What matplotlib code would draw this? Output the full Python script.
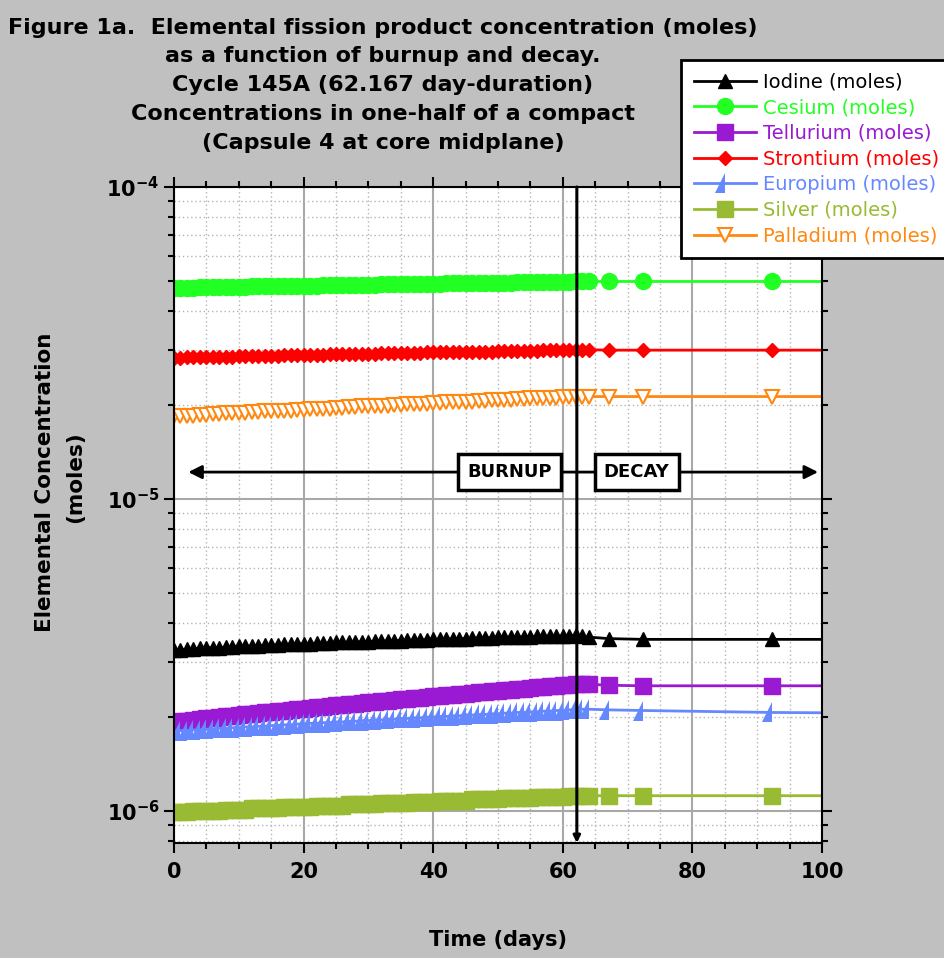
import numpy as np
import matplotlib
matplotlib.use("Agg")
import matplotlib.pyplot as plt
from matplotlib.ticker import MultipleLocator, LogLocator, NullFormatter

# time points (days): one per day during irradiation, sparse during decay
burnup_days = [0, 1, 2, 3, 4, 5, 6, 7, 8, 9,
               10, 11, 12, 13, 14, 15, 16, 17, 18, 19,
               20, 21, 22, 23, 24, 25, 26, 27, 28, 29,
               30, 31, 32, 33, 34, 35, 36, 37, 38, 39,
               40, 41, 42, 43, 44, 45, 46, 47, 48, 49,
               50, 51, 52, 53, 54, 55, 56, 57, 58, 59,
               60, 61, 62]
decay_days = [63, 64, 67.1, 72.4, 92.3, 125]

# concentrations (Iodine, Tellurium, Europium, Silver in 1e-6 moles,
# Cesium, Strontium, Palladium in 1e-5 moles); burnup values then decay values
iodine = [3.28, 3.29, 3.30, 3.31, 3.32, 3.33, 3.34, 3.34, 3.35, 3.36,
          3.37, 3.37, 3.38, 3.39, 3.40, 3.40, 3.41, 3.42, 3.42, 3.43,
          3.44, 3.44, 3.45, 3.45, 3.46, 3.47, 3.47, 3.48, 3.48, 3.49,
          3.49, 3.50, 3.50, 3.51, 3.52, 3.52, 3.53, 3.53, 3.54, 3.54,
          3.55, 3.55, 3.56, 3.56, 3.57, 3.57, 3.58, 3.58, 3.59, 3.59,
          3.60, 3.60, 3.61, 3.61, 3.62, 3.62, 3.63, 3.63, 3.64, 3.64,
          3.65, 3.65, 3.66,
          3.63, 3.61, 3.57, 3.55, 3.55, 3.55]
cesium = [4.75, 4.75, 4.76, 4.76, 4.77, 4.77, 4.77, 4.78, 4.78, 4.78,
          4.79, 4.79, 4.80, 4.80, 4.80, 4.81, 4.81, 4.81, 4.82, 4.82,
          4.82, 4.83, 4.83, 4.84, 4.84, 4.84, 4.85, 4.85, 4.85, 4.86,
          4.86, 4.86, 4.87, 4.87, 4.88, 4.88, 4.88, 4.89, 4.89, 4.89,
          4.90, 4.90, 4.91, 4.91, 4.91, 4.92, 4.92, 4.92, 4.93, 4.93,
          4.93, 4.94, 4.94, 4.95, 4.95, 4.95, 4.96, 4.96, 4.96, 4.97,
          4.97, 4.97, 4.98,
          4.98, 4.98, 4.98, 4.98, 4.98, 4.98]
tellurium = [1.93, 1.94, 1.95, 1.96, 1.97, 1.98, 1.99, 2.00, 2.01, 2.02,
             2.03, 2.04, 2.05, 2.06, 2.07, 2.08, 2.09, 2.10, 2.11, 2.12,
             2.13, 2.14, 2.15, 2.16, 2.17, 2.18, 2.19, 2.20, 2.21, 2.22,
             2.23, 2.24, 2.25, 2.26, 2.27, 2.28, 2.29, 2.30, 2.31, 2.32,
             2.33, 2.34, 2.35, 2.36, 2.37, 2.38, 2.39, 2.40, 2.41, 2.42,
             2.43, 2.44, 2.45, 2.46, 2.47, 2.48, 2.49, 2.50, 2.51, 2.52,
             2.53, 2.54, 2.56,
             2.56, 2.55, 2.53, 2.52, 2.52, 2.52]
strontium = [2.84, 2.84, 2.85, 2.85, 2.85, 2.85, 2.86, 2.86, 2.86, 2.86,
             2.87, 2.87, 2.87, 2.88, 2.88, 2.88, 2.88, 2.89, 2.89, 2.89,
             2.89, 2.90, 2.90, 2.90, 2.91, 2.91, 2.91, 2.91, 2.92, 2.92,
             2.92, 2.92, 2.93, 2.93, 2.93, 2.94, 2.94, 2.94, 2.94, 2.95,
             2.95, 2.95, 2.95, 2.96, 2.96, 2.96, 2.97, 2.97, 2.97, 2.97,
             2.98, 2.98, 2.98, 2.98, 2.99, 2.99, 2.99, 3.00, 3.00, 3.00,
             3.00, 3.01, 3.01,
             3.01, 3.01, 3.00, 3.00, 3.00, 3.00]
europium = [1.80, 1.81, 1.81, 1.82, 1.82, 1.83, 1.83, 1.84, 1.84, 1.85,
            1.85, 1.86, 1.86, 1.87, 1.87, 1.88, 1.88, 1.89, 1.89, 1.90,
            1.90, 1.91, 1.91, 1.92, 1.92, 1.93, 1.93, 1.94, 1.94, 1.95,
            1.95, 1.96, 1.96, 1.97, 1.97, 1.98, 1.98, 1.99, 1.99, 2.00,
            2.00, 2.01, 2.01, 2.02, 2.02, 2.03, 2.03, 2.04, 2.04, 2.05,
            2.05, 2.06, 2.06, 2.07, 2.07, 2.08, 2.08, 2.09, 2.09, 2.10,
            2.10, 2.11, 2.12,
            2.12, 2.12, 2.11, 2.10, 2.07, 2.05]
silver = [0.99, 0.99, 0.99, 1.00, 1.00, 1.00, 1.00, 1.00, 1.01, 1.01,
          1.01, 1.01, 1.02, 1.02, 1.02, 1.02, 1.02, 1.03, 1.03, 1.03,
          1.03, 1.03, 1.04, 1.04, 1.04, 1.04, 1.04, 1.05, 1.05, 1.05,
          1.05, 1.05, 1.06, 1.06, 1.06, 1.06, 1.06, 1.07, 1.07, 1.07,
          1.07, 1.08, 1.08, 1.08, 1.08, 1.08, 1.09, 1.09, 1.09, 1.09,
          1.09, 1.10, 1.10, 1.10, 1.10, 1.10, 1.11, 1.11, 1.11, 1.11,
          1.11, 1.12, 1.12,
          1.12, 1.12, 1.12, 1.12, 1.12, 1.12]
palladium = [1.84, 1.84, 1.85, 1.85, 1.86, 1.86, 1.87, 1.87, 1.88, 1.88,
             1.89, 1.89, 1.90, 1.90, 1.91, 1.91, 1.91, 1.92, 1.92, 1.93,
             1.93, 1.94, 1.94, 1.95, 1.95, 1.96, 1.96, 1.97, 1.97, 1.98,
             1.98, 1.98, 1.99, 1.99, 2.00, 2.00, 2.01, 2.01, 2.02, 2.02,
             2.03, 2.03, 2.04, 2.04, 2.04, 2.05, 2.05, 2.06, 2.06, 2.07,
             2.07, 2.08, 2.08, 2.09, 2.09, 2.10, 2.10, 2.11, 2.11, 2.11,
             2.12, 2.12, 2.13,
             2.13, 2.13, 2.13, 2.13, 2.13, 2.13]

cycle_length = 62.167

days = np.array(burnup_days + decay_days)

series = [
    ("Iodine (moles)", np.array(iodine) * 1e-6, "#000000", dict(marker="^", ms=10)),
    ("Cesium (moles)", np.array(cesium) * 1e-5, "#22ff22", dict(marker="o", ms=11.5)),
    ("Tellurium (moles)", np.array(tellurium) * 1e-6, "#9a19d2", dict(marker="s", ms=11)),
    ("Strontium (moles)", np.array(strontium) * 1e-5, "#ff0000", dict(marker="D", ms=7.5)),
    ("Europium (moles)", np.array(europium) * 1e-6, "#6688ff",
     dict(marker="^", ms=14, fillstyle="left", markerfacecoloralt="none", mew=0)),
    ("Silver (moles)", np.array(silver) * 1e-6, "#99bb33", dict(marker="s", ms=11)),
    ("Palladium (moles)", np.array(palladium) * 1e-5, "#ff8811",
     dict(marker="v", ms=9.5, mfc="white", mew=1.5)),
]

fig = plt.figure(figsize=(9.45, 9.58), dpi=100, facecolor="#c0c0c0")
ax = fig.add_axes([174 / 945, 115 / 958, 648 / 945, 656 / 958])
ax.set_facecolor("white")

for label, vals, col, style in series:
    ax.plot(days, vals, color=col, lw=2, label=label, **style)

ax.set_yscale("log")
ax.set_xlim(0, 100)
ax.set_ylim(7.9e-7, 1e-4)

ax.xaxis.set_major_locator(MultipleLocator(20))
ax.xaxis.set_minor_locator(MultipleLocator(5))
ax.yaxis.set_major_locator(LogLocator(base=10))
ax.yaxis.set_minor_locator(LogLocator(base=10, subs=np.arange(2, 10)))
ax.yaxis.set_minor_formatter(NullFormatter())
ax.set_yticks([1e-6, 1e-5, 1e-4],
              labels=[r"$\mathbf{10^{-6}}$", r"$\mathbf{10^{-5}}$", r"$\mathbf{10^{-4}}$"])
ax.set_xticks([0, 20, 40, 60, 80, 100])
ax.set_xticklabels(["0", "20", "40", "60", "80", "100"], fontweight="bold")

ax.tick_params(which="both", direction="out", top=True, right=True, width=1.5, labelsize=15)
ax.tick_params(which="major", length=7)
ax.tick_params(which="minor", length=4.5)
ax.tick_params(axis="x", pad=7)
for sp in ax.spines.values():
    sp.set_linewidth(1.5)

ax.grid(which="major", color="#a8a8a8", lw=1.5, ls="-")
ax.grid(which="minor", color="#b4b4b4", lw=1, ls=(0, (1, 2)))
ax.set_axisbelow(True)

# burnup / decay annotation
y_arrow = 1.22e-5
ax.annotate("", xy=(2.2, y_arrow), xytext=(99.4, y_arrow),
            arrowprops=dict(arrowstyle="<|-|>", lw=2, color="black", mutation_scale=20,
                            shrinkA=0, shrinkB=0))
box = dict(boxstyle="square,pad=0.5", fc="white", ec="black", lw=2.5)
ax.text(51.8, y_arrow, "BURNUP", ha="center", va="center", fontsize=13, fontweight="bold", bbox=box)
ax.text(71.4, y_arrow, "DECAY", ha="center", va="center", fontsize=13, fontweight="bold", bbox=box)
ax.annotate("", xy=(cycle_length, 7.9e-7), xytext=(cycle_length, 1e-4),
            arrowprops=dict(arrowstyle="-|>", lw=2.2, color="black", mutation_scale=10,
                            shrinkA=0, shrinkB=0))

leg = ax.legend(loc="upper left", bbox_to_anchor=(681 / 945, 1 - 60 / 958),
                bbox_transform=fig.transFigure, fancybox=False, edgecolor="black",
                framealpha=1, borderpad=0.65, handlelength=3.2, handletextpad=0.35,
                labelspacing=0.34, borderaxespad=0, prop={"size": 14})
leg.get_frame().set_linewidth(2)
for txt, ln in zip(leg.get_texts(), leg.get_lines()):
    txt.set_color(ln.get_color())

title_lines = [
    (28, "Figure 1a.  Elemental fission product concentration (moles)"),
    (56, "as a function of burnup and decay."),
    (85, "Cycle 145A (62.167 day-duration)"),
    (114, "Concentrations in one-half of a compact"),
    (143, "(Capsule 4 at core midplane)"),
]
for ypix, line in title_lines:
    fig.text(383 / 945, 1 - ypix / 958, line, ha="center", va="center",
             fontsize=16, fontweight="bold")

fig.text(45 / 945, 1 - 482 / 958, "Elemental Concentration", rotation=90,
         ha="center", va="center", fontsize=15.5, fontweight="bold")
fig.text(75 / 945, 1 - 477 / 958, "(moles)", rotation=90,
         ha="center", va="center", fontsize=15.5, fontweight="bold")
fig.text(498 / 945, 1 - 940 / 958, "Time (days)", ha="center", va="center",
         fontsize=15, fontweight="bold")

fig.savefig("out.png", dpi=100, facecolor=fig.get_facecolor())
